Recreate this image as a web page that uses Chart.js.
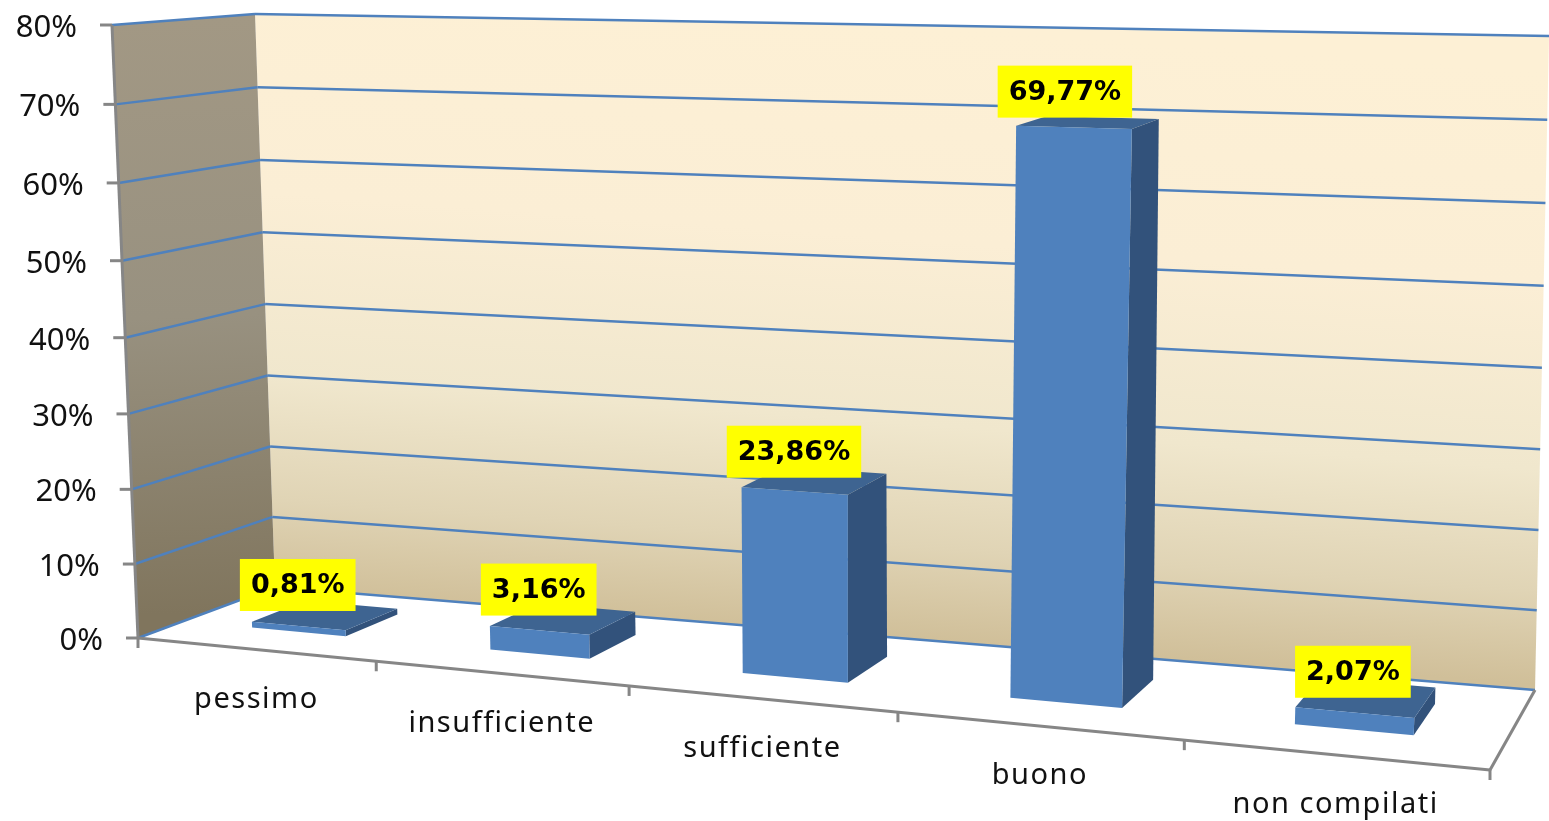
<!DOCTYPE html>
<html>
<head>
<meta charset="utf-8">
<title>Giudizio</title>
<script src="https://cdn.jsdelivr.net/npm/chart.js@4"></script>
<style>
    html, body { margin: 0; padding: 0; background: #fff; overflow: hidden; }
    #box { position: relative; width: 1549px; height: 821px; }
</style>
</head>
<body>
<div id="box"><canvas id="myChart"></canvas></div>
<script>
const categories = ["pessimo", "insufficiente", "sufficiente", "buono", "non compilati"];
const percentuali = [0.81, 3.16, 23.86, 69.77, 2.07];
const asseMax = 80;
const asseStep = 10;

// corners of the 3D box on screen: [0%,left] [0%,right] [top,right] [top,left]
const frontPlane = [[138, 638], [1490, 770], [1525, 55], [112, 25]];
const backPlane = [[275, 587], [1535, 690], [1549, 36], [255, 14]];
const barFront = 0.33, barBack = 0.73;

// unit square -> quad
function homography(q) {
    const [[x0, y0], [x1, y1], [x2, y2], [x3, y3]] = q;
    const dx1 = x1 - x2, dx2 = x3 - x2, sx = x0 - x1 + x2 - x3;
    const dy1 = y1 - y2, dy2 = y3 - y2, sy = y0 - y1 + y2 - y3;
    const den = dx1 * dy2 - dx2 * dy1;
    const g = (sx * dy2 - dx2 * sy) / den;
    const h = (dx1 * sy - sx * dy1) / den;
    const a = x1 - x0 + g * x1, b = x3 - x0 + h * x3;
    const d = y1 - y0 + g * y1, e = y3 - y0 + h * y3;
    return (u, v) => {
        const k = g * u + h * v + 1;
        return [(a * u + b * v + x0) / k, (d * u + e * v + y0) / k];
    };
}
const front = homography(frontPlane);
const back = homography(backPlane);

// u,v are 0..1 across the chart area, w is the depth (0 front, 1 back wall)
function project(u, v, w) {
    const p = front(u, v), q = back(u, v);
    return [p[0] + (q[0] - p[0]) * w, p[1] + (q[1] - p[1]) * w];
}

function poly(ctx, pts, fill) {
    ctx.beginPath();
    pts.forEach((p, i) => i ? ctx.lineTo(p[0], p[1]) : ctx.moveTo(p[0], p[1]));
    ctx.closePath();
    ctx.fillStyle = fill;
    ctx.fill();
}

function seg(ctx, a, b, color, width) {
    ctx.beginPath();
    ctx.moveTo(a[0], a[1]);
    ctx.lineTo(b[0], b[1]);
    ctx.strokeStyle = color;
    ctx.lineWidth = width;
    ctx.stroke();
}

const scena3d = {
    id: 'scena3d',
    beforeDatasetsDraw(chart) {
        const ctx = chart.ctx, area = chart.chartArea, yScale = chart.scales.y, xScale = chart.scales.x;
        const vOf = val => (area.bottom - yScale.getPixelForValue(val)) / area.height;

        // back wall
        const a = project(0.5, 1, 1), b = project(0.5, 0, 1);
        const wall = ctx.createLinearGradient(a[0] + 50, a[1], b[0], b[1]);
        wall.addColorStop(0, '#fdf0d5');
        wall.addColorStop(0.35, '#fbeed5');
        wall.addColorStop(0.65, '#f0e7cd');
        wall.addColorStop(0.85, '#e0d4b5');
        wall.addColorStop(1, '#d0bf99');
        poly(ctx, [project(0, 0, 1), project(1, 0, 1), project(1, 1, 1), project(0, 1, 1)], wall);

        // side wall
        const s0 = project(0, 1, 0.5), s1 = project(0, 0, 0.5);
        const side = ctx.createLinearGradient(s0[0], s0[1], s1[0], s1[1]);
        side.addColorStop(0, '#a29884');
        side.addColorStop(0.5, '#989180');
        side.addColorStop(1, '#80755d');
        poly(ctx, [project(0, 0, 0), project(0, 0, 1), project(0, 1, 1), project(0, 1, 0)], side);

        // gridlines
        yScale.ticks.forEach(t => {
            const v = vOf(t.value);
            seg(ctx, project(0, v, 0), project(0, v, 1), '#4f81bd', 2.5);
            seg(ctx, project(0, v, 1), project(1, v, 1), '#4f81bd', 2.5);
        });

        // axes
        const grey = '#868686';
        seg(ctx, project(0, 0, 0), project(0, 1, 0), grey, 3);
        seg(ctx, project(0, 0, 0), project(1, 0, 0), grey, 3);
        seg(ctx, project(1, 0, 0), project(1, 0, 1), grey, 3);
        yScale.ticks.forEach(t => {
            const p = project(0, vOf(t.value), 0);
            seg(ctx, [p[0] - 12, p[1]], p, grey, 3);
        });
        const n = categories.length;
        for (let i = 0; i <= n; i++) {
            const p = project(i / n, 0, 0);
            seg(ctx, p, [p[0], p[1] + 10], grey, 3);
        }

        // bars, from the bar elements that the library laid out
        chart.getDatasetMeta(0).data.forEach(bar => {
            const u0 = (bar.x - bar.width / 2 - area.left) / area.width;
            const u1 = (bar.x + bar.width / 2 - area.left) / area.width;
            const v1 = (area.bottom - bar.y) / area.height;
            const fbl = project(u0, 0, barFront), fbr = project(u1, 0, barFront);
            const ftl = project(u0, v1, barFront), ftr = project(u1, v1, barFront);
            const bbr = project(u1, 0, barBack), btr = project(u1, v1, barBack), btl = project(u0, v1, barBack);
            poly(ctx, [fbr, bbr, btr, ftr], '#32527b');
            poly(ctx, [ftl, ftr, btr, btl], '#3e6491');
            poly(ctx, [fbl, fbr, ftr, ftl], '#4f81bd');
        });

        // y tick labels
        ctx.fillStyle = '#111';
        ctx.font = '31px "Noto Sans"';
        ctx.textAlign = 'right';
        ctx.textBaseline = 'middle';
        yScale.ticks.forEach(t => {
            const p = project(0, vOf(t.value), 0);
            ctx.fillText(t.label, p[0] - 35, p[1] + 3);
        });

        // category labels
        ctx.font = '29px "Noto Sans"';
        ctx.letterSpacing = '1.5px';
        ctx.textAlign = 'center';
        xScale.getLabels().forEach((lab, i) => {
            const p = project((xScale.getPixelForValue(i) - area.left) / area.width, 0, 0);
            ctx.fillText(lab, p[0] + 1, p[1] + 50);
        });
        ctx.letterSpacing = '0px';

        // yellow value labels, centred over the foot of the bar
        ctx.font = 'bold 27px "DejaVu Sans"';
        chart.getDatasetMeta(0).data.forEach((bar, i) => {
            const u = (bar.x - area.left) / area.width, v = (area.bottom - bar.y) / area.height;
            const foot = project(u, 0, barFront), head = project(u, v, barFront);
            const txt = percentuali[i].toFixed(2).replace('.', ',') + '%';
            const w = ctx.measureText(txt).width + 22, cx = foot[0] - 1, cy = head[1] - 41 + 6 * v;
            ctx.fillStyle = '#ffff00';
            ctx.fillRect(cx - w / 2, cy - 26, w, 52);
            ctx.fillStyle = '#000';
            ctx.fillText(txt, cx, cy + 1);
        });
    }
};

const graphic = new Chart(document.getElementById('myChart').getContext('2d'), {
    type: 'bar',
    data: {
        labels: categories,
        datasets: [{
            label: "percentuale",
            data: percentuali,
            backgroundColor: 'transparent',
            categoryPercentage: 1,
            barPercentage: 0.4,
        }]
    },
    options: {
        responsive: true,
        maintainAspectRatio: false,
        animation: false,
        plugins: { legend: { display: false }, tooltip: { enabled: false } },
        scales: {
            x: { display: false },
            y: {
                display: false,
                min: 0,
                max: asseMax,
                ticks: { stepSize: asseStep, callback: v => v + '%' },
            }
        }
    },
    plugins: [scena3d],
});
</script>
</body>
</html>
